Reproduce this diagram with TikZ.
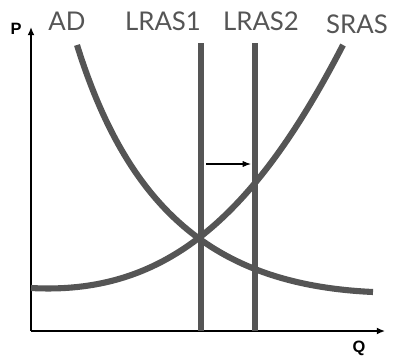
\documentclass[tikz,border=0pt]{standalone}
\usepackage{fontspec}
\newfontfamily\curvefont{Lato}
\newfontfamily\axisfont{Liberation Sans}
\usepackage{tikz}
\usetikzlibrary{arrows.meta,positioning}

\begin{document}
\begin{tikzpicture}[
  x=0.03cm, y=-0.03cm,
  >=Latex,
  curve/.style={draw=curvegray, line width=5.2pt},
  axis/.style={->, line width=1.3pt, >={Latex[length=7pt,width=6pt]}},
  curvelabel/.style={text=curvegray, font=\curvefont\fontsize{22}{24}\selectfont, inner sep=0pt},
  axislabel/.style={font=\axisfont\bfseries\fontsize{14}{16}\selectfont, inner sep=0pt}
]
\definecolor{curvegray}{HTML}{555555}
\useasboundingbox (0,0) rectangle (399,362);
% axes
\coordinate (O) at (31,331);
\coordinate (ptop) at (31,27);
\coordinate (qend) at (385,331);
\draw[axis] (O) -- (ptop);
\draw[axis] (O) -- (qend);
\node[axislabel] (P) at (16,29) {P};
\node[axislabel] (Q) at (359,348) {Q};
% long run supply
\coordinate (l1top) at (201,43);
\coordinate (l1bot) at (201,331);
\coordinate (l2top) at (255,43);
\coordinate (l2bot) at (255,331);
\draw[curve] (l1top) -- (l1bot);
\draw[curve] (l2top) -- (l2bot);
% demand and short run supply
\coordinate (adtop) at (77,45);
\coordinate (adend) at (373,292);
\draw[curve] (adtop) .. controls (130,215) and (220,285) .. (adend);
\coordinate (srstart) at (31,288);
\coordinate (srtop) at (343,45);
\draw[curve] (srstart) .. controls (160,295) and (250,225) .. (srtop);
% shift
\coordinate (shiftfrom) at (206,164);
\coordinate (shiftto) at (251,164);
\draw[->, line width=0.9pt] (shiftfrom) -- (shiftto);
% labels
\node[curvelabel] (ad) at (67,21) {AD};
\node[curvelabel] (lras1) at (163,21) {LRAS1};
\node[curvelabel] (lras2) at (261,21) {LRAS2};
\node[curvelabel] (sras) at (357,24) {SRAS};
\end{tikzpicture}
\end{document}
